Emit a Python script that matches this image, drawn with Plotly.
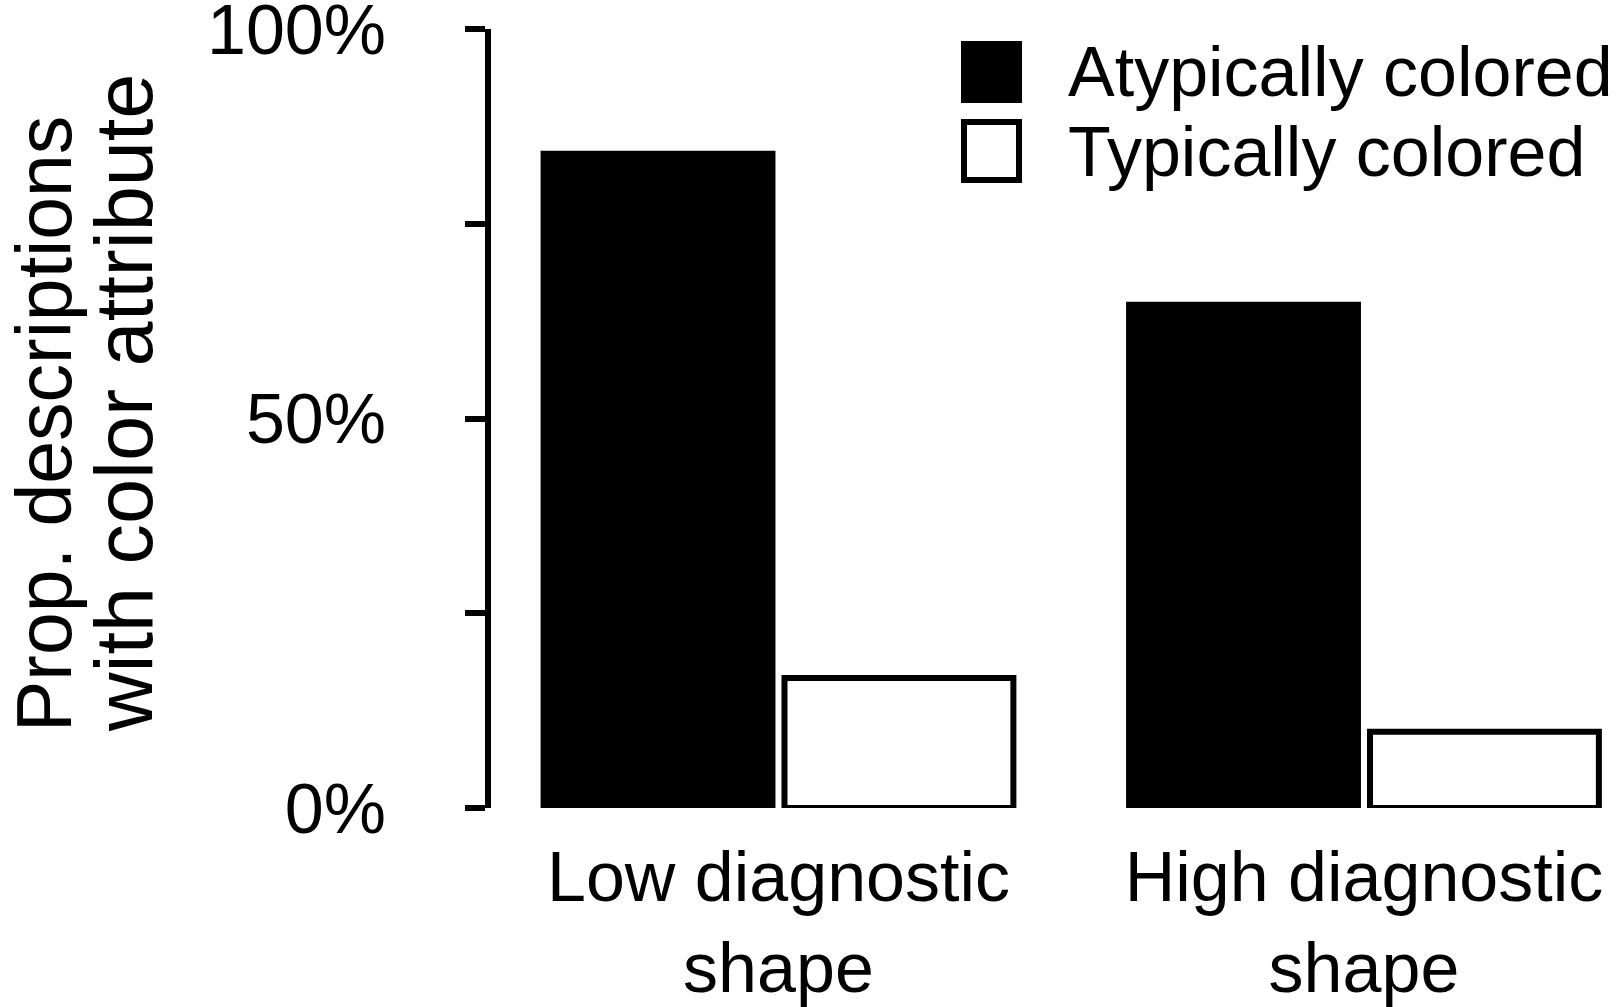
import plotly.graph_objects as go

# data (percent of descriptions)
categories = ['Low diagnostic<br>shape', 'High diagnostic<br>shape']
series_names = ['Atypically colored', 'Typically colored']
atypical = [84.0, 64.6]
typical = [16.7, 9.8]

tick_vals = [0, 25, 50, 75, 100]
tick_text = ['0%', '', '50%', '', '100%']
y_title = ['Prop. descriptions', 'with color attribute']

W, H = 1617, 1007
M_L, M_R, M_T, M_B = 491, 5, 29, 199
FONT = 'Liberation Sans, Arial, Helvetica, sans-serif'


def px_x(px):
    # pixel -> paper x
    return (px - M_L) / (W - M_L - M_R)


def px_y(py):
    # pixel -> paper y
    return (H - M_B - py) / (H - M_T - M_B)


fig = go.Figure()
fig.add_trace(go.Bar(
    x=categories, y=atypical, name=series_names[0],
    marker=dict(color='black', line=dict(color='black', width=6)),
))
fig.add_trace(go.Bar(
    x=categories, y=typical, name=series_names[1],
    marker=dict(color='white', line=dict(color='black', width=6)),
))

fig.update_layout(
    width=W, height=H,
    margin=dict(l=M_L, r=M_R, t=M_T, b=M_B, autoexpand=False),
    paper_bgcolor='white', plot_bgcolor='white',
    barmode='group', bargap=0.177, bargroupgap=0.05,
    showlegend=False,
    font=dict(family=FONT, size=70, color='black'),
)

fig.update_xaxes(
    range=[-0.491, 1.4236],
    showline=False, showgrid=False, zeroline=False, ticks='',
    ticklabelstandoff=22,
    tickfont=dict(size=70, color='black'),
)
fig.update_yaxes(
    range=[0, 100],
    tickvals=tick_vals, ticktext=tick_text,
    showline=True, linecolor='black', linewidth=6,
    ticks='outside', ticklen=20, tickwidth=6, tickcolor='black',
    ticklabelstandoff=65, ticklabeloverflow='allow',
    showgrid=False, zeroline=False,
    tickfont=dict(size=70, color='black'),
)

# y title as two rotated lines, left aligned like the original
for line, xc, fs in zip(y_title, [44, 124], [77, 81]):
    fig.add_annotation(
        x=px_x(xc), y=px_y(734), xref='paper', yref='paper',
        xanchor='center', yanchor='bottom', showarrow=False,
        textangle=-90, text=line, font=dict(size=fs, color='black'),
    )

# legend drawn by hand so the swatches can be as big as in the original
fig.add_shape(type='rect', xref='paper', yref='paper',
              x0=px_x(961), x1=px_x(1022), y0=px_y(103), y1=px_y(41),
              fillcolor='black', line=dict(width=0))
fig.add_shape(type='rect', xref='paper', yref='paper',
              x0=px_x(964), x1=px_x(1019), y0=px_y(180), y1=px_y(122),
              fillcolor='white', line=dict(color='black', width=6))
for name, yc in zip(series_names, [72, 152]):
    fig.add_annotation(
        x=px_x(1066), y=px_y(yc), xref='paper', yref='paper',
        xanchor='left', yanchor='middle', showarrow=False,
        text=name, font=dict(size=70, color='black'),
    )

fig.write_html('out.html', config={'displayModeBar': False},
               post_script="document.body.style.margin = '0';")
